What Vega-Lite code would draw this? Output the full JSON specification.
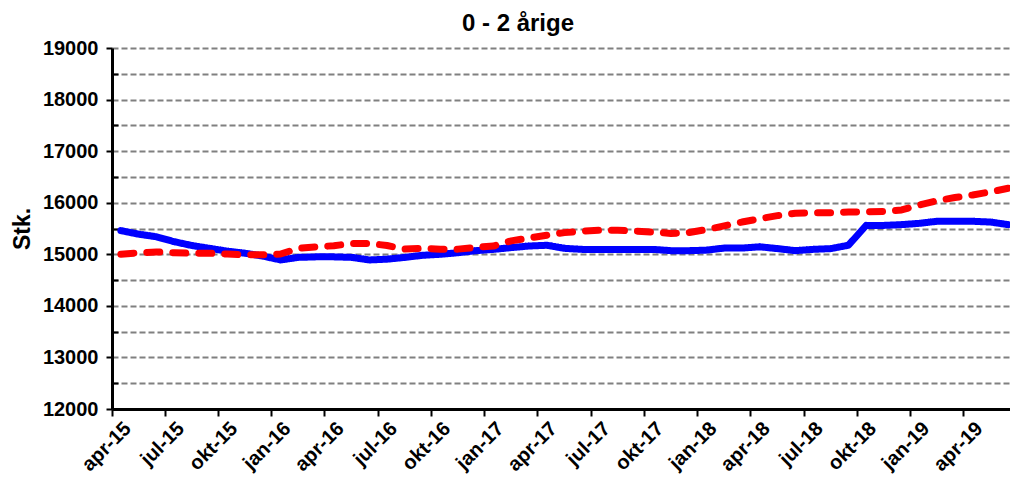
{
  "$schema": "https://vega.github.io/schema/vega-lite/v6.json",
  "autosize": {"type": "none"},
  "padding": {"left": 112, "top": 48, "right": 0, "bottom": 68},
  "width": 898,
  "height": 361,
  "background": "white",
  "title": {"text": "0 - 2 årige", "font": "Liberation Sans", "fontSize": 24, "fontWeight": "bold", "color": "black", "anchor": "middle", "dx": -43, "baseline": "alphabetic", "offset": 16, "dy": 33},
  "data": {"values": [
    {"m": "apr-15", "a": 15460, "b": 15000},
    {"m": "maj-15", "a": 15390, "b": 15030},
    {"m": "jun-15", "a": 15340, "b": 15045},
    {"m": "jul-15", "a": 15245, "b": 15030},
    {"m": "aug-15", "a": 15170, "b": 15020},
    {"m": "sep-15", "a": 15115, "b": 15020},
    {"m": "okt-15", "a": 15060, "b": 15005},
    {"m": "nov-15", "a": 15020, "b": 14990},
    {"m": "dec-15", "a": 14965, "b": 14990},
    {"m": "jan-16", "a": 14890, "b": 15005},
    {"m": "feb-16", "a": 14940, "b": 15115},
    {"m": "mar-16", "a": 14950, "b": 15145},
    {"m": "apr-16", "a": 14950, "b": 15165},
    {"m": "maj-16", "a": 14940, "b": 15210},
    {"m": "jun-16", "a": 14890, "b": 15210},
    {"m": "jul-16", "a": 14905, "b": 15170},
    {"m": "aug-16", "a": 14940, "b": 15100},
    {"m": "sep-16", "a": 14980, "b": 15115},
    {"m": "okt-16", "a": 15000, "b": 15100},
    {"m": "nov-16", "a": 15030, "b": 15100},
    {"m": "dec-16", "a": 15070, "b": 15135},
    {"m": "jan-17", "a": 15095, "b": 15160},
    {"m": "feb-17", "a": 15130, "b": 15260},
    {"m": "mar-17", "a": 15160, "b": 15315},
    {"m": "apr-17", "a": 15175, "b": 15370},
    {"m": "maj-17", "a": 15115, "b": 15420},
    {"m": "jun-17", "a": 15095, "b": 15450},
    {"m": "jul-17", "a": 15095, "b": 15465},
    {"m": "aug-17", "a": 15095, "b": 15465},
    {"m": "sep-17", "a": 15095, "b": 15450},
    {"m": "okt-17", "a": 15095, "b": 15430},
    {"m": "nov-17", "a": 15070, "b": 15405},
    {"m": "dec-17", "a": 15070, "b": 15420},
    {"m": "jan-18", "a": 15080, "b": 15480},
    {"m": "feb-18", "a": 15120, "b": 15550},
    {"m": "mar-18", "a": 15120, "b": 15625},
    {"m": "apr-18", "a": 15145, "b": 15690},
    {"m": "maj-18", "a": 15110, "b": 15750},
    {"m": "jun-18", "a": 15070, "b": 15795},
    {"m": "jul-18", "a": 15095, "b": 15805},
    {"m": "aug-18", "a": 15110, "b": 15805},
    {"m": "sep-18", "a": 15175, "b": 15820},
    {"m": "okt-18", "a": 15560, "b": 15825},
    {"m": "nov-18", "a": 15560, "b": 15830},
    {"m": "dec-18", "a": 15575, "b": 15860},
    {"m": "jan-19", "a": 15600, "b": 15955},
    {"m": "feb-19", "a": 15640, "b": 16040},
    {"m": "mar-19", "a": 15640, "b": 16100},
    {"m": "apr-19", "a": 15640, "b": 16150},
    {"m": "maj-19", "a": 15625, "b": 16210},
    {"m": "jun-19", "a": 15575, "b": 16280}
  ]},
  "transform": [{"fold": ["a", "b"], "as": ["serie", "v"]}],
  "mark": {"type": "line", "strokeWidth": 7, "strokeCap": "round", "strokeJoin": "round", "clip": true},
  "encoding": {
    "x": {
      "field": "m", "type": "ordinal", "sort": null,
      "scale": {"type": "band", "paddingInner": 0, "paddingOuter": 0, "range": [0, 905]},
      "axis": {
        "title": null,
        "values": ["apr-15","jul-15","okt-15","jan-16","apr-16","jul-16","okt-16","jan-17","apr-17","jul-17","okt-17","jan-18","apr-18","jul-18","okt-18","jan-19","apr-19"],
        "bandPosition": 0,
        "grid": false,
        "domainColor": "black", "domainWidth": 3,
        "tickColor": "black", "tickWidth": 2, "tickSize": 7,
        "labelAngle": -45, "labelAlign": "right", "labelBaseline": "top", "labelPadding": 2,
        "labelFont": "Liberation Sans", "labelFontSize": 20, "labelFontWeight": "bold", "labelColor": "black",
        "labelOverlap": false
      }
    },
    "y": {
      "field": "v", "type": "quantitative",
      "scale": {"domain": [12000, 19000], "nice": false, "zero": false},
      "axis": {
        "title": "Stk.",
        "titleFont": "Liberation Sans", "titleFontSize": 23, "titleFontWeight": "bold", "titleColor": "black", "titlePadding": 8,
        "values": [12000,12500,13000,13500,14000,14500,15000,15500,16000,16500,17000,17500,18000,18500,19000],
        "format": "d",
        "labelExpr": "datum.value % 1000 === 0 ? datum.label : ''",
        "labelFont": "Liberation Sans", "labelFontSize": 20, "labelFontWeight": "bold", "labelColor": "black", "labelPadding": 8,
        "grid": true, "gridColor": "#808080", "gridWidth": 2, "gridDash": [6, 3],
        "domainColor": "black", "domainWidth": 3,
        "tickColor": "black", "tickWidth": 2,
        "tickSize": {"condition": {"test": "datum.value % 1000 === 0", "value": 6}, "value": -6}
      }
    },
    "color": {"field": "serie", "type": "nominal", "scale": {"domain": ["a", "b"], "range": ["#0000ff", "#ff0000"]}, "legend": null},
    "strokeDash": {"field": "serie", "type": "nominal", "scale": {"domain": ["a", "b"], "range": [[1, 0], [13, 13]]}, "legend": null}
  },
  "config": {"view": {"stroke": null}}
}
